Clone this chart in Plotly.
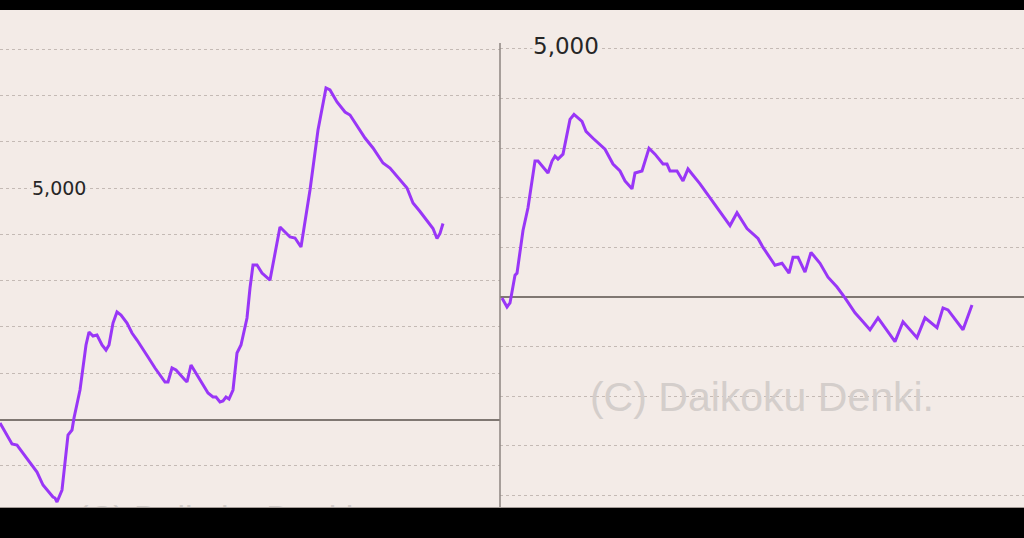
import plotly.graph_objects as go

# Two cropped slot-machine "差枚" graphs side by side (games vs. coin difference)

left_games = [0, 100, 240, 340, 460, 600, 740, 860, 1000, 1060,
              1100, 1140, 1240, 1340, 1360, 1440, 1480, 1600, 1720, 1780,
              1860, 1940, 2040, 2120, 2180, 2260, 2340, 2420, 2540, 2640,
              2740, 2960, 3100, 3300, 3360, 3440, 3520, 3700, 3740, 3820,
              3880, 4000, 4160, 4260, 4320, 4400, 4460, 4520, 4580, 4660,
              4740, 4820, 4940, 5000, 5060, 5140, 5240, 5400, 5500, 5600,
              5700, 5800, 5900, 6020, 6200, 6360, 6520, 6600, 6740, 6900,
              7000, 7300, 7460, 7660, 7800, 7940, 8140, 8260, 8400, 8660,
              8740, 8800, 8860]
left_diff = [-76, -270, -529, -551, -724, -940, -1134, -1415, -1588, -1674,
             -1696, -1782, -1523, -594, -335, -227, 32, 637, 1609, 1890,
             1804, 1825, 1609, 1501, 1609, 2084, 2322, 2257, 2084, 1868,
             1717, 1350, 1112, 810, 810, 1112, 1069, 853, 810, 1177,
             1069, 853, 572, 486, 486, 378, 400, 486, 443, 637,
             1436, 1609, 2192, 2840, 3337, 3337, 3164, 3013, 3596, 4158,
             4050, 3942, 3920, 3726, 4957, 6253, 7160, 7117, 6858, 6642,
             6577, 6080, 5864, 5540, 5432, 5260, 5000, 4676, 4493, 4126,
             3910, 4018, 4234]

right_games = [40, 140, 200, 300, 340, 460, 560, 700, 760, 960,
               1040, 1100, 1160, 1260, 1400, 1480, 1640, 1720, 1860, 2100,
               2260, 2400, 2500, 2640, 2700, 2840, 2980, 3100, 3260, 3340,
               3400, 3540, 3660, 3760, 4000, 4200, 4400, 4600, 4740, 4940,
               5160, 5260, 5500, 5640, 5780, 5860, 5960, 6100, 6220, 6400,
               6560, 6740, 6900, 7100, 7260, 7400, 7560, 7760, 7900, 8060,
               8340, 8500, 8740, 8860, 8960, 9260, 9440]
right_diff = [-20, -200, -120, 440, 480, 1340, 1800, 2740, 2740, 2500,
              2740, 2840, 2780, 2880, 3580, 3680, 3540, 3340, 3200, 2980,
              2680, 2540, 2340, 2180, 2500, 2540, 3000, 2880, 2680, 2680,
              2540, 2540, 2340, 2580, 2280, 2000, 1740, 1440, 1700, 1380,
              1180, 1000, 640, 680, 480, 800, 800, 500, 900, 680,
              400, 200, -20, -320, -500, -660, -420, -700, -900, -500,
              -820, -420, -620, -220, -260, -660, -160]

label_text = "5,000"
watermark = "(C) Daikoku Denki."

BG = "#f3ebe7"
LINE = "#9936f7"
GRID = "#c4bab5"
ZERO = "#7f7772"

fig = go.Figure()

# faint watermarks (behind the lines, clipped to each plot area)
fig.add_scatter(
    x=[4400], y=[-2180], mode="text", text=[watermark], xaxis="x", yaxis="y",
    textfont=dict(family="Liberation Sans, Arial", size=34, color="#d4cecb"),
    hoverinfo="skip", showlegend=False, cliponaxis=True,
)
fig.add_scatter(
    x=[5240], y=[-2087], mode="text", text=[watermark], xaxis="x2", yaxis="y2",
    textfont=dict(family="Liberation Sans, Arial", size=41, color="#d4cecb"),
    hoverinfo="skip", showlegend=False, cliponaxis=True,
)

fig.add_scatter(
    x=left_games, y=left_diff, mode="lines", xaxis="x", yaxis="y",
    line=dict(color=LINE, width=3), showlegend=False,
)
fig.add_scatter(
    x=right_games, y=right_diff, mode="lines", xaxis="x2", yaxis="y2",
    line=dict(color=LINE, width=3), showlegend=False,
)

split = 500 / 1024
ydom = [31 / 538, 528 / 538]
yax = dict(
    showgrid=True, gridcolor=GRID, griddash="dot", gridwidth=1,
    tick0=0, dtick=1000, showticklabels=False, ticks="",
    zeroline=True, zerolinecolor=ZERO, zerolinewidth=2, showline=False,
)
xax = dict(showgrid=False, zeroline=False, showticklabels=False, ticks="",
           showline=True, linecolor="#a39b97", linewidth=1)

fig.update_layout(
    width=1024, height=538,
    margin=dict(l=0, r=0, t=0, b=0),
    paper_bgcolor="#000000",
    plot_bgcolor=BG,
    hovermode=False,
    xaxis=dict(domain=[0, split], range=[0, 10000], **xax),
    xaxis2=dict(domain=[split, 1], range=[0, 10480], **xax),
    yaxis=dict(domain=ydom, range=[-1890, 8845], anchor="x", **yax),
    yaxis2=dict(domain=ydom, range=[-4234, 5786], anchor="x2", **yax),
    annotations=[
        dict(text=label_text, x=1180, y=5000, xref="x", yref="y", showarrow=False,
             font=dict(family="DejaVu Sans", size=19, color="#262626"),
             bgcolor=BG, borderpad=0),
        dict(text=label_text, x=1320, y=5000, xref="x2", yref="y2", showarrow=False,
             yshift=3, font=dict(family="DejaVu Sans", size=23, color="#262626"),
             bgcolor=BG, borderpad=0),
    ],
    shapes=[
        dict(type="line", xref="paper", yref="paper", x0=split, x1=split,
             y0=ydom[0], y1=(538 - 43) / 538, line=dict(color="#8c8480", width=1.5)),
    ],
)

# page has a default 8px body margin; drop it so the figure fills the window
fig.write_html("out.html", config={"displayModeBar": False},
               post_script="document.body.style.margin='0';")
